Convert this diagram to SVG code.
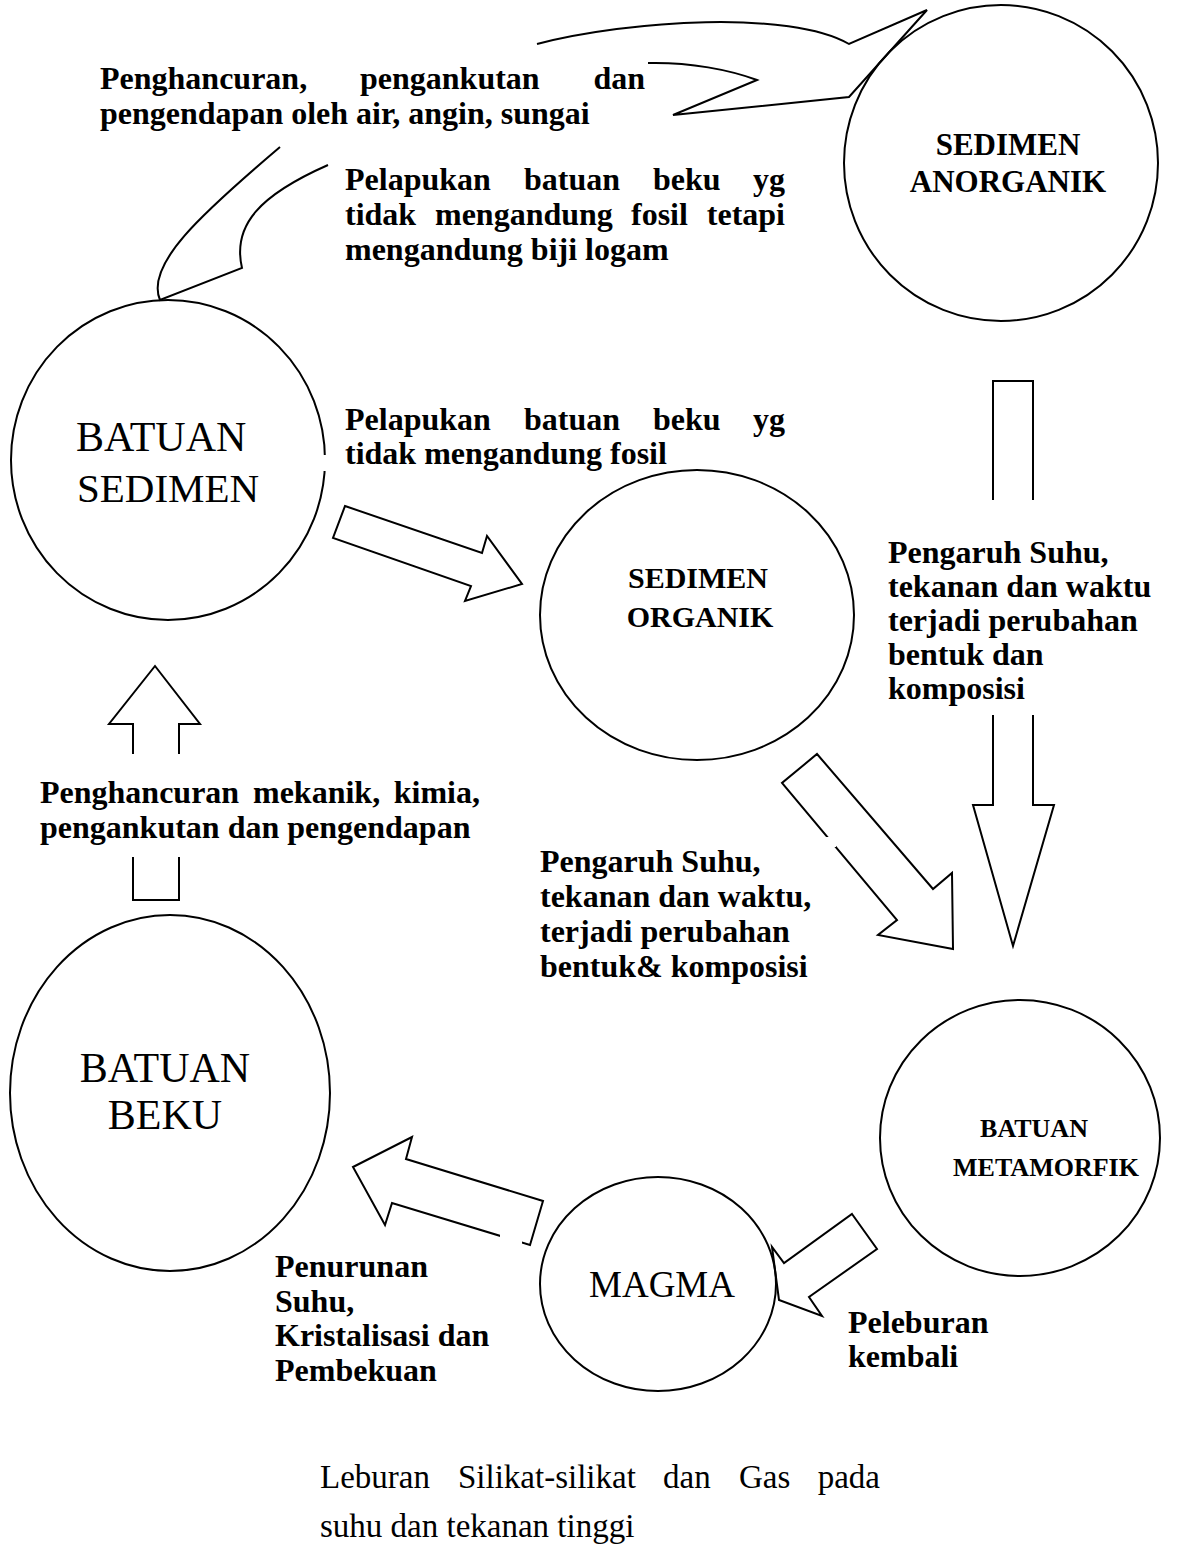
<svg xmlns="http://www.w3.org/2000/svg" width="1198" height="1553" viewBox="0 0 1198 1553">
<style>
.shape{fill:none;stroke:#000;stroke-width:2;stroke-linejoin:miter}
.b{font-family:"Liberation Serif","Times New Roman",serif;font-weight:bold;font-size:32px;fill:#000}
.bc{font-family:"Liberation Serif","Times New Roman",serif;font-weight:bold;fill:#000;text-anchor:middle}
.r{font-family:"Liberation Serif","Times New Roman",serif;fill:#000}
</style>
<rect width="1198" height="1553" fill="#fff"/>
<g id="connectors">
  <path class="shape" d="M537,44 C630,20 790,10 849,44 L927,10 L849,97 L673,115 L757,80 C730,70 690,62 648,63"/>
  <path class="shape" d="M280,147 C200,215 145,265 160,300 L242,268 C232,225 260,195 328,165"/>
  <polygon class="shape" points="345,506 482,553 487,536 522,584 465,601 471,586 333,538"/>
  <polygon class="shape" points="817,754 933,889 952,873 953,949 878,935 897,920 782,783"/>
  <rect x="820" y="837" width="16" height="10" fill="#fff"/>
  <path class="shape" d="M993,500 L993,381 L1033,381 L1033,500"/>
  <path class="shape" d="M993,715 L993,805 L973,805 L1013,946 L1054,805 L1033,805 L1033,715"/>
  <path class="shape" d="M133,754 L133,724 L109,724 L155,666 L200,724 L179,724 L179,754"/>
  <path class="shape" d="M133,857 L133,900 L179,900 L179,857"/>
  <polygon class="shape" points="353,1167 412,1137 406,1159 543,1201 530,1245 392,1203 385,1225"/>
  <rect x="500" y="1232" width="22" height="14" fill="#fff"/>
  <polygon class="shape" points="852,1214 877,1249 809,1297 822,1316 779,1300 772,1247 784,1263"/>
</g>
<g id="node-sedimen-anorganik">
  <ellipse class="shape" cx="1001" cy="163" rx="157" ry="158"/>
  <text class="bc" font-size="31" x="1008" y="155">SEDIMEN</text>
  <text class="bc" font-size="31" x="1008" y="192">ANORGANIK</text>
</g>
<g id="node-batuan-sedimen">
  <ellipse class="shape" cx="168" cy="460" rx="157" ry="160"/>
  <rect x="318" y="455" width="14" height="16" fill="#fff"/>
  <text class="r" font-size="42" x="76" y="451">BATUAN</text>
  <text class="r" font-size="41" x="77" y="502">SEDIMEN</text>
</g>
<g id="node-sedimen-organik">
  <ellipse class="shape" cx="697" cy="615" rx="157" ry="145"/>
  <text class="bc" font-size="30" x="698" y="588">SEDIMEN</text>
  <text class="bc" font-size="30" x="700" y="627">ORGANIK</text>
</g>
<g id="node-batuan-beku">
  <ellipse class="shape" cx="170" cy="1093" rx="160" ry="178"/>
  <text class="r" font-size="42" x="165" y="1082" text-anchor="middle">BATUAN</text>
  <text class="r" font-size="42" x="165" y="1129" text-anchor="middle">BEKU</text>
</g>
<g id="node-batuan-metamorfik">
  <ellipse class="shape" cx="1020" cy="1138" rx="140" ry="138"/>
  <text class="bc" font-size="26" x="1034" y="1137">BATUAN</text>
  <text class="bc" font-size="26" x="1046" y="1176">METAMORFIK</text>
</g>
<g id="node-magma">
  <ellipse class="shape" cx="658" cy="1284" rx="118" ry="107"/>
  <text class="r" font-size="37" x="662" y="1297" text-anchor="middle">MAGMA</text>
</g>
<g id="labels">
  <text class="b" y="89"><tspan x="100">Penghancuran,</tspan><tspan x="360">pengankutan</tspan><tspan x="645" text-anchor="end">dan</tspan></text>
  <text class="b" x="100" y="124">pengendapan oleh air, angin, sungai</text>

  <text class="b" y="190"><tspan x="345">Pelapukan</tspan><tspan x="524">batuan</tspan><tspan x="653">beku</tspan><tspan x="785" text-anchor="end">yg</tspan></text>
  <text class="b" y="225"><tspan x="345">tidak</tspan><tspan x="435">mengandung</tspan><tspan x="631">fosil</tspan><tspan x="785" text-anchor="end">tetapi</tspan></text>
  <text class="b" x="345" y="260">mengandung biji logam</text>

  <text class="b" y="430"><tspan x="345">Pelapukan</tspan><tspan x="524">batuan</tspan><tspan x="653">beku</tspan><tspan x="785" text-anchor="end">yg</tspan></text>
  <text class="b" x="345" y="464">tidak mengandung fosil</text>

  <text class="b" x="888" y="563">Pengaruh Suhu,</text>
  <text class="b" x="888" y="597">tekanan dan waktu</text>
  <text class="b" x="888" y="631">terjadi perubahan</text>
  <text class="b" x="888" y="665">bentuk dan</text>
  <text class="b" x="888" y="699">komposisi</text>

  <text class="b" y="803"><tspan x="40">Penghancuran</tspan><tspan x="253">mekanik,</tspan><tspan x="480" text-anchor="end">kimia,</tspan></text>
  <text class="b" x="40" y="838">pengankutan dan pengendapan</text>

  <text class="b" x="540" y="872">Pengaruh Suhu,</text>
  <text class="b" x="540" y="907">tekanan dan waktu,</text>
  <text class="b" x="540" y="942">terjadi perubahan</text>
  <text class="b" x="540" y="977">bentuk&amp; komposisi</text>

  <text class="b" x="275" y="1277">Penurunan</text>
  <text class="b" x="275" y="1312">Suhu,</text>
  <text class="b" x="275" y="1346">Kristalisasi dan</text>
  <text class="b" x="275" y="1381">Pembekuan</text>

  <text class="b" x="848" y="1333">Peleburan</text>
  <text class="b" x="848" y="1367">kembali</text>

  <text class="r" font-size="33" y="1488"><tspan x="320">Leburan</tspan><tspan x="458">Silikat-silikat</tspan><tspan x="663">dan</tspan><tspan x="739">Gas</tspan><tspan x="880" text-anchor="end">pada</tspan></text>
  <text class="r" font-size="33" x="320" y="1537">suhu dan tekanan tinggi</text>
</g>
</svg>
